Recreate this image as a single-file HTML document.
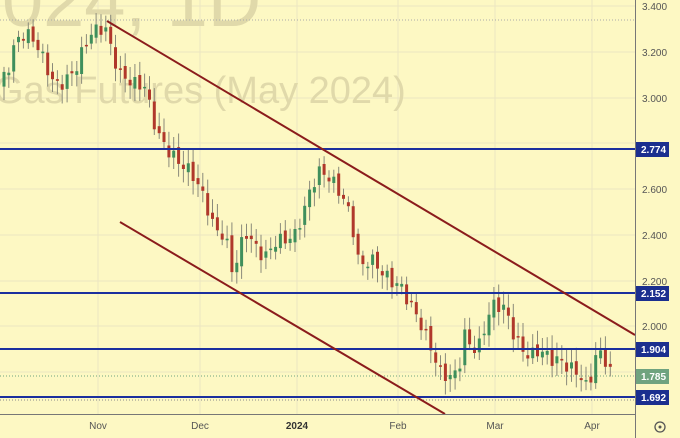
<!DOCTYPE html>
<html><head><meta charset="utf-8"><style>
html,body{margin:0;padding:0;background:#fdf8c3;}
svg{display:block;font-family:"Liberation Sans",sans-serif;}
</style></head><body>
<svg id="s" width="680" height="438" viewBox="0 0 680 438" xmlns="http://www.w3.org/2000/svg">
<rect width="680" height="438" fill="#fdf8c3"/>
<g stroke="#ece6c2" stroke-width="1">
<line x1="0" y1="6" x2="635" y2="6"/><line x1="0" y1="52" x2="635" y2="52"/><line x1="0" y1="98" x2="635" y2="98"/>
<line x1="0" y1="143" x2="635" y2="143"/><line x1="0" y1="189" x2="635" y2="189"/><line x1="0" y1="235" x2="635" y2="235"/>
<line x1="0" y1="281" x2="635" y2="281"/><line x1="0" y1="326" x2="635" y2="326"/><line x1="0" y1="372" x2="635" y2="372"/>
<line x1="98" y1="0" x2="98" y2="414"/><line x1="200" y1="0" x2="200" y2="414"/><line x1="297" y1="0" x2="297" y2="414"/>
<line x1="398" y1="0" x2="398" y2="414"/><line x1="495" y1="0" x2="495" y2="414"/><line x1="592" y1="0" x2="592" y2="414"/>
</g>
<text x="2" y="26" font-size="74" fill="#e0d9aa">024, 1D</text>
<text x="-6" y="103" font-size="38" fill="#e0d9aa">Gas Futures (May 2024)</text>
<line x1="0" y1="20" x2="635" y2="20" stroke="#aaa" stroke-dasharray="1,2"/>
<line x1="0" y1="376" x2="635" y2="376" stroke="#6fa37f" stroke-dasharray="1,2"/>
<line x1="0" y1="400" x2="635" y2="400" stroke="#888" stroke-dasharray="1,2"/>
<g id="c"></g>
<g stroke="#1b2f9e" stroke-width="2">
<line x1="0" y1="149" x2="635" y2="149"/><line x1="0" y1="293" x2="635" y2="293"/>
<line x1="0" y1="349" x2="635" y2="349"/><line x1="0" y1="397" x2="635" y2="397"/>
</g>
<g stroke="#8b1c1c" stroke-width="2">
<line x1="107" y1="21" x2="635" y2="335"/><line x1="120" y1="222" x2="445" y2="414"/>
</g>
<rect x="636" y="0" width="44" height="438" fill="#fdf8c3"/>
<rect x="0" y="415" width="680" height="23" fill="#fdf8c3"/>
<line x1="635.5" y1="0" x2="635.5" y2="438" stroke="#777"/>
<line x1="0" y1="414.5" x2="635" y2="414.5" stroke="#777"/>
<g font-size="10" fill="#555">
<text x="642" y="10">3.400</text><text x="642" y="56">3.200</text><text x="642" y="102">3.000</text>
<text x="642" y="193">2.600</text><text x="642" y="239">2.400</text><text x="642" y="285">2.200</text><text x="642" y="330">2.000</text>
</g>
<g font-size="10" font-weight="bold" fill="#fff">
<rect x="636" y="142" width="33" height="15" fill="#1b2f8f"/><text x="641" y="153">2.774</text>
<rect x="636" y="286" width="33" height="15" fill="#1b2f8f"/><text x="641" y="297">2.152</text>
<rect x="636" y="342" width="33" height="15" fill="#1b2f8f"/><text x="641" y="353">1.904</text>
<rect x="636" y="369" width="33" height="15" fill="#6fa37f"/><text x="641" y="380">1.785</text>
<rect x="636" y="390" width="33" height="15" fill="#1b2f8f"/><text x="641" y="401">1.692</text>
</g>
<g font-size="10" fill="#555" text-anchor="middle">
<text x="98" y="429">Nov</text><text x="200" y="429">Dec</text><text x="297" y="429" font-weight="bold" fill="#333">2024</text>
<text x="398" y="429">Feb</text><text x="495" y="429">Mar</text><text x="592" y="429">Apr</text>
</g>
<circle cx="660" cy="427" r="5" fill="none" stroke="#555" stroke-width="1.3"/><circle cx="660" cy="427" r="1.5" fill="#555"/>
</svg>
<script>
var P=[[0,3.05],[10,3.15],[16,3.25],[25,3.28],[35,3.25],[45,3.15],[55,3.05],[65,3.07],[75,3.12],[90,3.28],[105,3.31],[112,3.2],[120,3.1],[135,3.06],[145,3.05],[152,2.92],[160,2.82],[170,2.76],[178,2.72],[185,2.7],[195,2.65],[205,2.55],[215,2.42],[225,2.4],[232,2.25],[238,2.3],[245,2.42],[255,2.35],[265,2.3],[275,2.37],[285,2.38],[295,2.4],[305,2.52],[312,2.62],[320,2.68],[330,2.65],[345,2.55],[352,2.45],[360,2.25],[370,2.3],[380,2.25],[390,2.2],[400,2.18],[410,2.1],[420,2.02],[430,1.92],[440,1.8],[450,1.78],[458,1.8],[465,1.97],[472,1.9],[480,1.92],[488,2.05],[495,2.1],[505,2.08],[515,1.95],[522,1.9],[530,1.87],[540,1.9],[550,1.86],[560,1.85],[570,1.82],[580,1.79],[588,1.72],[595,1.87],[603,1.88],[612,1.785]];
function f(x){for(var i=1;i<P.length;i++){if(x<=P[i][0]){var a=P[i-1],b=P[i];return a[1]+(b[1]-a[1])*(x-a[0])/(b[0]-a[0]);}}return P[P.length-1][1];}
function Y(p){return 6+(3.4-p)*229;}
var h='',prev=f(0),k=0;
for(var x=4;x<=613;x+=4.85){k++;var c=f(x)+(Math.sin(k*2.3)*0.03);var o=prev+Math.cos(k*1.7)*0.015;
var hi=Math.max(o,c)+0.02+Math.abs(Math.sin(k*3.1))*0.04,lo=Math.min(o,c)-0.02-Math.abs(Math.cos(k*2.9))*0.04;
var col=c>=o?'#3f8f5c':'#b0382b';var y1=Y(Math.max(o,c)),y2=Y(Math.min(o,c));if(y2-y1<1.5)y2=y1+1.5;
h+='<line x1="'+x.toFixed(1)+'" x2="'+x.toFixed(1)+'" y1="'+Y(hi).toFixed(1)+'" y2="'+Y(lo).toFixed(1)+'" stroke="#8a8a7a" stroke-width="1"/>';
h+='<rect x="'+(x-1.5).toFixed(1)+'" y="'+y1.toFixed(1)+'" width="3" height="'+(y2-y1).toFixed(1)+'" fill="'+col+'"/>';prev=c;}
document.getElementById('c').innerHTML=h;
</script>
</body></html>
